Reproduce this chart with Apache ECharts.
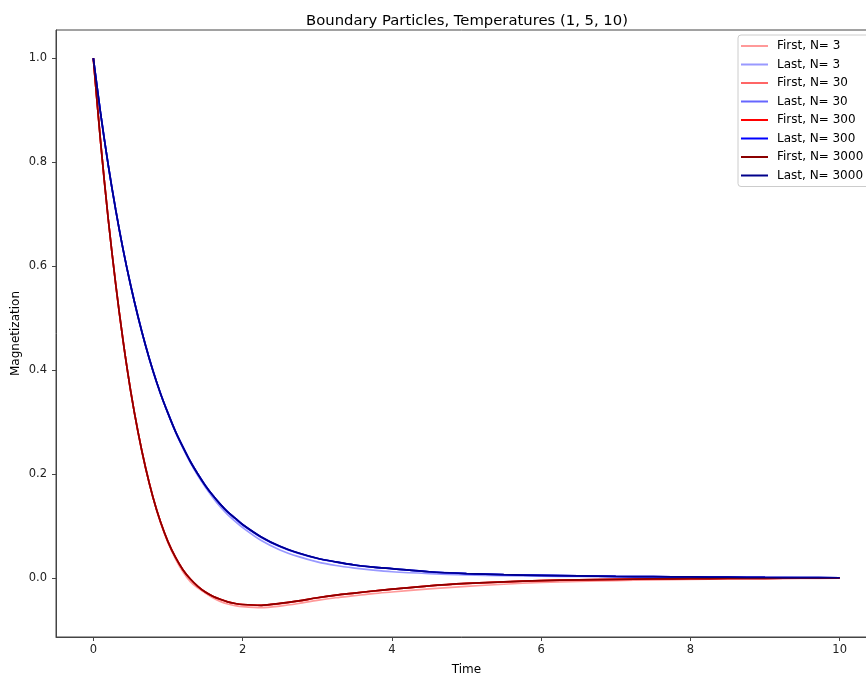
<!DOCTYPE html>
<html>
<head>
<meta charset="utf-8">
<script src="https://cdn.jsdelivr.net/npm/echarts@6/dist/echarts.min.js"></script>
<style>
html,body{margin:0;padding:0;background:#fff;}
#chart{width:866px;height:675px;}
</style>
</head>
<body>
<div id="chart"></div>
<script>
// Time samples
const times = [0,0.1,0.2,0.3,0.4,0.5,0.6,0.7,0.8,0.9,1.0,1.1,1.2,1.3,1.4,1.5,1.6,1.7,1.8,1.9,2.0,
  2.25,2.5,2.75,3.0,3.25,3.5,3.75,4.0,4.5,5.0,5.5,6.0,6.5,7.0,7.5,8.0,8.5,9.0,9.5,10.0];

const firstN3 = [1.0,0.835,0.69,0.565,0.455,0.36,0.28,0.212,0.155,0.107,0.068,0.037,0.012,-0.007,-0.019,-0.029,-0.038,-0.045,-0.05,-0.053,-0.055,
  -0.057,-0.054,-0.049,-0.043,-0.038,-0.034,-0.030,-0.027,-0.021,-0.016,-0.012,-0.0085,-0.0065,-0.005,-0.0035,-0.0025,-0.0018,-0.0012,-0.0008,-0.0005];
const lastN3 = [1.0,0.891,0.794,0.708,0.631,0.563,0.502,0.447,0.398,0.355,0.317,0.281,0.250,0.222,0.197,0.175,0.155,0.137,0.122,0.109,0.097,
  0.072,0.054,0.041,0.031,0.024,0.019,0.015,0.012,0.0085,0.006,0.0045,0.0035,0.003,0.0022,0.0018,0.0015,0.001,0.0007,0.0005,0.0003];
const firstN30 = [1.0,0.835,0.69,0.565,0.455,0.36,0.28,0.212,0.155,0.108,0.07,0.04,0.016,-0.002,-0.016,-0.027,-0.035,-0.041,-0.046,-0.049,-0.051,
  -0.0528,-0.0495,-0.0445,-0.0385,-0.0335,-0.0292,-0.0253,-0.0218,-0.0153,-0.0108,-0.0078,-0.0052,-0.0037,-0.0026,-0.0019,-0.0014,-0.001,-0.0007,-0.0005,-0.0003];
const lastN30 = [1.0,0.891,0.794,0.708,0.631,0.563,0.502,0.447,0.398,0.355,0.317,0.282,0.252,0.224,0.200,0.178,0.159,0.142,0.127,0.114,0.102,
  0.078,0.060,0.047,0.0375,0.0305,0.0248,0.0208,0.0178,0.0118,0.0084,0.0062,0.0051,0.0039,0.003,0.0025,0.002,0.0015,0.001,0.0007,0.0005];
const firstN300 = [1.0,0.835,0.69,0.565,0.455,0.36,0.28,0.212,0.155,0.108,0.07,0.04,0.016,-0.002,-0.016,-0.027,-0.035,-0.041,-0.046,-0.049,-0.051,
  -0.0525,-0.049,-0.044,-0.038,-0.033,-0.029,-0.025,-0.0215,-0.015,-0.0105,-0.0075,-0.005,-0.0035,-0.0025,-0.0018,-0.0013,-0.0009,-0.0006,-0.0004,-0.0003];
const lastN300 = [1.0,0.891,0.794,0.708,0.631,0.563,0.502,0.447,0.398,0.355,0.317,0.282,0.252,0.224,0.200,0.178,0.159,0.142,0.127,0.115,0.103,
  0.079,0.061,0.048,0.038,0.031,0.025,0.021,0.018,0.012,0.0085,0.0063,0.0052,0.004,0.003,0.0025,0.002,0.0015,0.001,0.0007,0.0005];
const firstN3000 = [1.0,0.835,0.69,0.565,0.455,0.36,0.28,0.212,0.155,0.108,0.07,0.04,0.016,-0.002,-0.016,-0.027,-0.035,-0.041,-0.046,-0.049,-0.051,
  -0.0525,-0.049,-0.044,-0.038,-0.033,-0.029,-0.025,-0.0215,-0.015,-0.0105,-0.0075,-0.005,-0.0035,-0.0025,-0.0018,-0.0013,-0.0009,-0.0006,-0.0004,-0.0003];
const lastN3000 = [1.0,0.891,0.794,0.708,0.631,0.563,0.502,0.447,0.398,0.355,0.317,0.282,0.252,0.224,0.200,0.178,0.159,0.142,0.127,0.115,0.103,
  0.079,0.061,0.048,0.038,0.031,0.025,0.021,0.018,0.012,0.0085,0.0063,0.0052,0.004,0.003,0.0025,0.002,0.0015,0.001,0.0007,0.0005];

const seriesNames = ['First, N= 3','Last, N= 3','First, N= 30','Last, N= 30','First, N= 300','Last, N= 300','First, N= 3000','Last, N= 3000'];
const seriesValues = [firstN3,lastN3,firstN30,lastN30,firstN300,lastN300,firstN3000,lastN3000];
const seriesColors = ['#ff9999','#9999ff','#ff6666','#6666ff','#ff0000','#0000ff','#8b0000','#00008b'];

const xTicks = [0,2,4,6,8,10];
const yTicks = [0,0.2,0.4,0.6,0.8,1.0];

const chart = echarts.init(document.getElementById('chart'), null, {renderer:'canvas'});
const font = 'DejaVu Sans';

const series = seriesNames.map((name,k)=>({
  name: name,
  type: 'line',
  data: times.map((t,i)=>[t, seriesValues[k][i]]),
  showSymbol: false,
  symbol: 'none',
  smooth: 0.3,
  lineStyle: {color: seriesColors[k], width: 1.7},
  itemStyle: {color: seriesColors[k]},
  emphasis: {disabled: true},
  z: 2 + k
}));

chart.setOption({
  animation: false,
  backgroundColor: '#ffffff',
  title: {
    text: 'Boundary Particles, Temperatures (1, 5, 10)',
    left: 462, top: 9, textAlign: 'center',
    textStyle: {fontFamily: font, fontSize: 14.8, fontWeight: 'normal', color: '#000'}
  },
  grid: {left: 56, top: 30, width: 821, height: 607, outerBoundsMode: 'none', containLabel: false,
    show: true, borderColor: '#444', borderWidth: 1, backgroundColor: 'transparent'},
  legend: {
    orient: 'vertical',
    left: 738, top: 35,
    padding: [4, 6, 4, 3],
    backgroundColor: '#fff',
    borderColor: '#cccccc', borderWidth: 1, borderRadius: 3,
    icon: 'rect',
    itemWidth: 27, itemHeight: 2,
    itemGap: 4.5,
    textStyle: {fontFamily: font, fontSize: 12, color: '#000', lineHeight: 14, padding: [0,0,0,4]},
    data: seriesNames
  },
  xAxis: {
    type: 'value', min: -0.5, max: 10.5,
    name: 'Time', nameLocation: 'middle', nameGap: 27, nameMoveOverlap: false,
    nameTextStyle: {fontFamily: font, fontSize: 12, color: '#000'},
    axisLine: {show: true, onZero: false, lineStyle: {color: '#444', width: 1}},
    axisTick: {show: true, length: 4, lineStyle: {color: '#444'}, customValues: xTicks},
    axisLabel: {fontFamily: font, fontSize: 11.5, color: '#222', margin: 7, customValues: xTicks,
      formatter: v => String(Math.round(v))},
    splitLine: {show: false}
  },
  yAxis: {
    type: 'value', min: -0.1135, max: 1.054,
    name: 'Magnetization', nameLocation: 'middle', nameGap: 34, nameRotate: 90, nameMoveOverlap: false,
    nameTextStyle: {fontFamily: font, fontSize: 12, color: '#000'},
    axisLine: {show: true, onZero: false, lineStyle: {color: '#444', width: 1}},
    axisTick: {show: true, length: 4, lineStyle: {color: '#444'}, customValues: yTicks},
    axisLabel: {fontFamily: font, fontSize: 11.5, color: '#222', margin: 9, customValues: yTicks,
      formatter: v => v.toFixed(1)},
    splitLine: {show: false}
  },
  series: series
});
</script>
</body>
</html>
